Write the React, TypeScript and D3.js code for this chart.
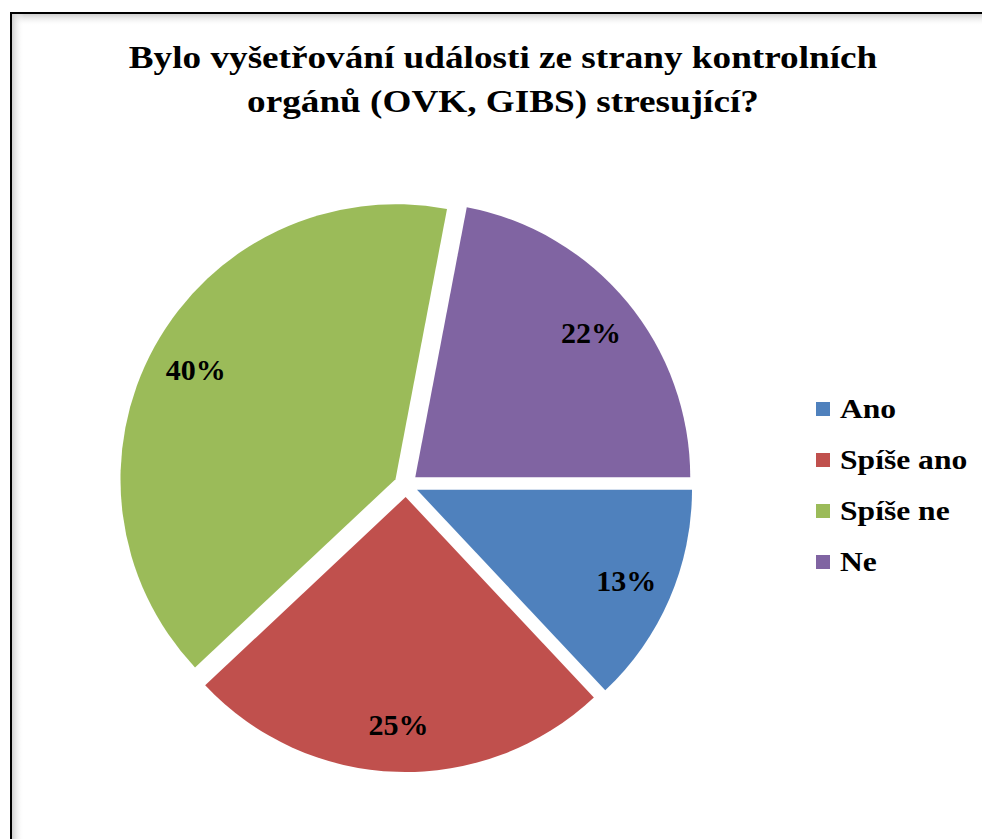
import React, { useEffect, useRef } from "react";
import * as d3 from "d3";

const categories = ["Ano", "Spíše ano", "Spíše ne", "Ne"];
const shares = [13, 25, 40, 22];
const colors = ["#4F81BD", "#C0504D", "#9BBB59", "#8064A2"];
const titleLines = [
  "Bylo vyšetřování události ze strany kontrolních",
  "orgánů (OVK, GIBS) stresující?",
];

const W = 982;
const H = 839;

export default function App() {
  const ref = useRef<SVGSVGElement>(null);

  useEffect(() => {
    if (!ref.current) return;
    const svg = d3.select(ref.current);
    svg.selectAll("*").remove();

    const font = "'Liberation Serif', 'Times New Roman', serif";

    // frame with soft inner shadow on top/left
    const defs = svg.append("defs");
    const gTop = defs.append("linearGradient").attr("id", "shTop").attr("x1", 0).attr("y1", 0).attr("x2", 0).attr("y2", 1);
    gTop.append("stop").attr("offset", "0%").attr("stop-color", "#cfcfcf");
    gTop.append("stop").attr("offset", "100%").attr("stop-color", "#ffffff").attr("stop-opacity", 0);
    const gLeft = defs.append("linearGradient").attr("id", "shLeft").attr("x1", 0).attr("y1", 0).attr("x2", 1).attr("y2", 0);
    gLeft.append("stop").attr("offset", "0%").attr("stop-color", "#cfcfcf");
    gLeft.append("stop").attr("offset", "100%").attr("stop-color", "#ffffff").attr("stop-opacity", 0);

    svg.append("rect").attr("width", W).attr("height", H).attr("fill", "#fff");
    svg.append("rect").attr("x", 12).attr("y", 14).attr("width", W).attr("height", 12).attr("fill", "url(#shTop)");
    svg.append("rect").attr("x", 12).attr("y", 14).attr("width", 12).attr("height", H).attr("fill", "url(#shLeft)");
    svg
      .append("rect")
      .attr("x", 11)
      .attr("y", 13)
      .attr("width", W + 20)
      .attr("height", H + 20)
      .attr("fill", "none")
      .attr("stroke", "#000")
      .attr("stroke-width", 2);

    // title (the original is drawn a little wider than plain Times)
    svg
      .append("g")
      .selectAll("text")
      .data(titleLines)
      .join("text")
      .attr("transform", (_, i) => `translate(503,${68 + i * 44}) scale(1.2,1)`)
      .attr("text-anchor", "middle")
      .attr("font-family", font)
      .attr("font-weight", "bold")
      .attr("font-size", 31)
      .attr("fill", "#000")
      .text((d) => d);

    // pie, starting at 3 o'clock, slices pulled out
    const cx = 406;
    const cy = 485;
    const r = 275;
    const explode = 12;
    const labelR = 228;

    const pie = d3
      .pie<number>()
      .sort(null)
      .value((d) => d)
      .startAngle(Math.PI / 2)
      .endAngle(Math.PI / 2 + 2 * Math.PI);
    const arcs = pie(shares);
    const arc = d3.arc<d3.PieArcDatum<number>>().innerRadius(0).outerRadius(r);
    const mid = (d: d3.PieArcDatum<number>) => (d.startAngle + d.endAngle) / 2;

    const g = svg.append("g").attr("transform", `translate(${cx},${cy})`);
    const slices = g
      .selectAll("g.slice")
      .data(arcs)
      .join("g")
      .attr("class", "slice")
      .attr("transform", (d) => `translate(${Math.sin(mid(d)) * explode},${-Math.cos(mid(d)) * explode})`);

    slices
      .append("path")
      .attr("d", arc)
      .attr("fill", (_, i) => colors[i]);

    slices
      .append("text")
      .attr("x", (d) => Math.sin(mid(d)) * labelR)
      .attr("y", (d) => -Math.cos(mid(d)) * labelR)
      .attr("dy", "0.35em")
      .attr("text-anchor", "middle")
      .attr("font-family", font)
      .attr("font-weight", "bold")
      .attr("font-size", 30)
      .attr("fill", "#000")
      .text((d) => `${d.data}%`);

    // legend
    const ly = d3.scalePoint<string>().domain(categories).range([409, 562]);
    const leg = svg
      .append("g")
      .selectAll("g")
      .data(categories)
      .join("g")
      .attr("transform", (d) => `translate(816,${ly(d)})`);
    leg
      .append("rect")
      .attr("x", 0)
      .attr("y", -7)
      .attr("width", 14)
      .attr("height", 14)
      .attr("fill", (_, i) => colors[i]);
    leg
      .append("text")
      .attr("transform", "translate(24,0) scale(1.17,1)")
      .attr("dy", "0.35em")
      .attr("font-family", font)
      .attr("font-weight", "bold")
      .attr("font-size", 27)
      .attr("fill", "#000")
      .text((d) => d);
  }, []);

  return (
    <svg
      ref={ref}
      width={W}
      height={H}
      style={{ position: "absolute", left: 0, top: 0, display: "block" }}
    />
  );
}
